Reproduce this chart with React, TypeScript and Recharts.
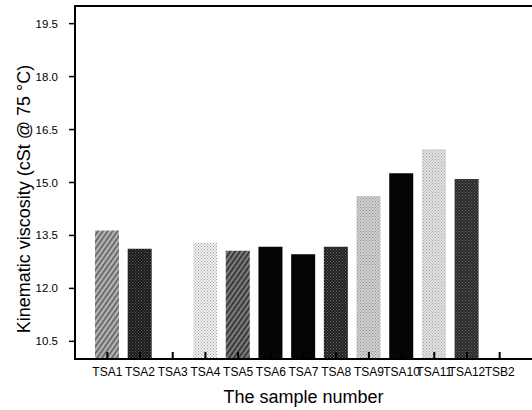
import { BarChart, Bar, XAxis, YAxis, Cell } from 'recharts';

const categories = ['TSA1', 'TSA2', 'TSA3', 'TSA4', 'TSA5', 'TSA6', 'TSA7', 'TSA8', 'TSA9', 'TSA10', 'TSA11', 'TSA12', 'TSB2'];
const viscosity: (number | null)[] = [13.64, 13.12, null, 13.29, 13.07, 13.18, 12.97, 13.18, 14.62, 15.26, 15.94, 15.1, null];
const yTicks = [10.5, 12.0, 13.5, 15.0, 16.5, 18.0, 19.5];

// grayscale textures, one per bar
const fills = [
  { bg: '#b4b4b4', fg: '#5e5e5e', kind: 'diag' },
  { bg: '#1a1a1a', fg: '#5c5c5c', kind: 'dots' },
  { bg: '#ffffff', fg: '#ffffff', kind: 'dots' },
  { bg: '#f2f2f2', fg: '#9c9c9c', kind: 'dots' },
  { bg: '#7c7c7c', fg: '#2c2c2c', kind: 'diag' },
  { bg: '#050505', fg: '#050505', kind: 'dots' },
  { bg: '#050505', fg: '#050505', kind: 'dots' },
  { bg: '#1e1e1e', fg: '#727272', kind: 'dots' },
  { bg: '#d2d2d2', fg: '#8a8a8a', kind: 'dots' },
  { bg: '#050505', fg: '#050505', kind: 'dots' },
  { bg: '#e2e2e2', fg: '#a6a6a6', kind: 'dots' },
  { bg: '#2a2a2a', fg: '#646464', kind: 'dots' },
  { bg: '#ffffff', fg: '#ffffff', kind: 'dots' },
];

const data = categories.map((name, i) => ({ name, value: viscosity[i] }));

const font = 'Arial, Liberation Sans, Helvetica, sans-serif';

// plot frame (matches the chart margins / axis sizes below)
const W = 532;
const H = 410;
const LEFT = 75;
const TOP = 6;
const XAXIS_H = 51;
const BOTTOM = H - XAXIS_H;

// strokes did not show up in the render, so lines are drawn as thin filled rects;
// the frame is drawn along with the first x tick, which does render
const XTick = ({ x, payload, index }: any) => (
  <g>
    {index === 0 && (
      <g>
        <rect x={LEFT - 1} y={BOTTOM - 1} width={W - LEFT + 1} height={2} fill="#000" />
        <rect x={LEFT - 1} y={TOP - 1} width={2} height={BOTTOM - TOP + 2} fill="#000" />
        <rect x={LEFT - 1} y={TOP - 1} width={W - LEFT + 1} height={2} fill="#000" />
      </g>
    )}
    <rect x={x - 1} y={BOTTOM - 7} width={2} height={6} fill="#000" />
    <text x={x} y={BOTTOM + 17} textAnchor="middle" fontSize={12} fontFamily={font} fill="#000">
      {payload.value}
    </text>
  </g>
);

const YTick = ({ y, payload }: any) => (
  <g>
    <rect x={LEFT - 6} y={y - 0.75} width={6} height={1.5} fill="#000" />
    <text x={LEFT - 17} y={y} dy="0.35em" textAnchor="end" fontSize={11.5} fontFamily={font} fill="#000">
      {Number(payload.value).toFixed(1)}
    </text>
  </g>
);

const XLabel = () => (
  <text x={(LEFT + W) / 2} y={403} textAnchor="middle" fontSize={18} fontFamily={font} fill="#000">
    The sample number
  </text>
);

const YLabel = () => (
  <text
    x={24}
    y={199}
    transform="rotate(-90, 24, 199)"
    textAnchor="middle"
    dominantBaseline="central"
    fontSize={18}
    fontFamily={font}
    fill="#000"
  >
    Kinematic viscosity (cSt @ 75 °C)
  </text>
);

export default function App() {
  return (
    <div style={{ position: 'absolute', left: 0, top: 0 }}>
      <svg width={0} height={0} style={{ position: 'absolute' }}>
        <defs>
          {fills.map((f, i) =>
            f.kind === 'diag' ? (
              <pattern key={i} id={`p${i}`} width={4} height={4} patternUnits="userSpaceOnUse" patternTransform="rotate(35)">
                <rect width={4} height={4} fill={f.bg} />
                <rect width={1.6} height={4} fill={f.fg} />
              </pattern>
            ) : (
              <pattern key={i} id={`p${i}`} width={3} height={3} patternUnits="userSpaceOnUse">
                <rect width={3} height={3} fill={f.bg} />
                <rect x={0} y={0} width={1} height={1} fill={f.fg} />
                <rect x={1.5} y={1.5} width={1} height={1} fill={f.fg} />
              </pattern>
            )
          )}
        </defs>
      </svg>
      <BarChart
        width={W}
        height={H}
        data={data}
        margin={{ top: TOP, right: 0, bottom: 0, left: 0 }}
        barSize={24}
      >
        <XAxis
          dataKey="name"
          interval={0}
          height={XAXIS_H}
          padding={{ left: 16, right: 16 }}
          axisLine={false}
          tickLine={false}
          tickSize={0}
          tickMargin={0}
          tick={<XTick />}
          label={{ content: XLabel }}
        />
        <YAxis
          width={LEFT}
          domain={[10, 20]}
          ticks={yTicks}
          axisLine={false}
          tickLine={false}
          tickSize={0}
          tickMargin={0}
          tick={<YTick />}
          label={{ content: YLabel }}
        />
        <Bar dataKey="value" isAnimationActive={false}>
          {data.map((_, i) => (
            <Cell key={i} fill={`url(#p${i})`} />
          ))}
        </Bar>
      </BarChart>
    </div>
  );
}
